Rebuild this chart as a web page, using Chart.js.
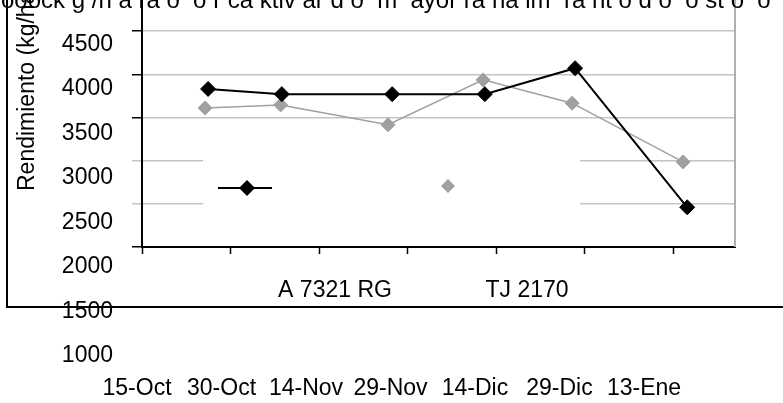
<!DOCTYPE html>
<html>
<head>
<meta charset="utf-8">
<title>Rendimiento</title>
<script src="https://cdn.jsdelivr.net/npm/chart.js@4"></script>
<style>
  html, body { margin: 0; padding: 0; background: #fff; }
  canvas { display: block; }
</style>
</head>
<body>
<canvas id="rendChart" width="783" height="403"></canvas>
<script>
// sowing date as days after 15-Oct
const daysA7321 = [11.2, 23.7, 42.4, 58.1, 73.4, 92.4];
const yieldA7321 = [3830, 3770, 3770, 3770, 4070, 2460];
const daysTJ2170 = [10.7, 23.5, 41.7, 57.8, 72.9, 91.7];
const yieldTJ2170 = [3610, 3645, 3415, 3935, 3665, 2985];
const seriesNames = ['A 7321 RG', 'TJ 2170'];

const dateTicks = [0, 15, 30, 45, 60, 75, 90];
const dateLabels = ['15-Oct', '30-Oct', '14-Nov', '29-Nov', '14-Dic', '29-Dic', '13-Ene'];
const gridValues = [2000, 2500, 3000, 3500, 4000, 4500];
const yLabels = [4500, 4000, 3500, 3000, 2500, 2000, 1500, 1000];
const yTitle = 'Rendimiento (kg/ha)';
const topCaption = 'ooock g /n a ra o  o r ca ktiv ar d o  m  ayor ra na im  ra nt o d o  o st o  o';

const FONT = '"Liberation Sans", Arial, sans-serif';
Chart.defaults.font.family = FONT;
Chart.defaults.font.size = 23;
Chart.defaults.color = '#000';

function toPoints(xs, ys) {
  return xs.map((x, i) => ({ x: x, y: ys[i] }));
}

// fixed axis sizes, no extra room for overhanging labels
function fixSize(w, h) {
  return (axis) => {
    if (w !== null) axis.width = w;
    if (h !== null) axis.height = h;
    axis.paddingTop = 0;
    axis.paddingBottom = 0;
    axis.paddingLeft = 0;
    axis.paddingRight = 0;
  };
}

function diamond(ctx, x, y, r, color) {
  ctx.beginPath();
  ctx.moveTo(x, y - r);
  ctx.lineTo(x + r, y);
  ctx.lineTo(x, y + r);
  ctx.lineTo(x - r, y);
  ctx.closePath();
  ctx.fillStyle = color;
  ctx.fill();
}

// the legend sits in a white box inside the plot, its texts fell below the axis
const legendBox = {
  id: 'legendBox',
  beforeDatasetsDraw(chart) {
    const ctx = chart.ctx;
    ctx.save();
    ctx.fillStyle = '#fff';
    ctx.fillRect(203, 138, 377, 95);
    ctx.restore();
  },
  afterDatasetsDraw(chart) {
    const ctx = chart.ctx;
    const ds = chart.data.datasets;
    ctx.save();
    ctx.strokeStyle = ds[0].borderColor;
    ctx.lineWidth = 2;
    ctx.beginPath();
    ctx.moveTo(218, 188);
    ctx.lineTo(272, 188);
    ctx.stroke();
    diamond(ctx, 247, 188, 8, ds[0].backgroundColor);
    diamond(ctx, 448, 186, 7, ds[1].backgroundColor);
    ctx.fillStyle = '#000';
    ctx.font = '23px ' + FONT;
    ctx.textAlign = 'center';
    ctx.textBaseline = 'middle';
    ctx.fillText(ds[0].label, 335, 291);
    ctx.fillText(ds[1].label, 527, 291);
    ctx.restore();
  }
};

const decorations = {
  id: 'decorations',
  afterDraw(chart) {
    const ctx = chart.ctx;
    const area = chart.chartArea;
    ctx.save();
    // right edge of plot
    ctx.strokeStyle = '#b0b0b0';
    ctx.lineWidth = 2;
    ctx.beginPath();
    ctx.moveTo(area.right, 0);
    ctx.lineTo(area.right, area.bottom);
    ctx.stroke();
    // outer frame
    ctx.strokeStyle = '#000';
    ctx.lineWidth = 2;
    ctx.beginPath();
    ctx.moveTo(7, 0);
    ctx.lineTo(7, 307);
    ctx.lineTo(783, 307);
    ctx.stroke();
    // cut caption at the top
    ctx.fillStyle = '#000';
    ctx.font = '24px ' + FONT;
    ctx.textAlign = 'left';
    ctx.textBaseline = 'alphabetic';
    ctx.fillText(topCaption, 1, 8);
    // y title
    ctx.translate(34, 191);
    ctx.rotate(-Math.PI / 2);
    ctx.font = '23px ' + FONT;
    ctx.fillText(yTitle, 0, 0);
    ctx.restore();
  }
};

const ctx = document.getElementById('rendChart').getContext('2d');
new Chart(ctx, {
  type: 'line',
  data: {
    datasets: [{
      label: seriesNames[0],
      data: toPoints(daysA7321, yieldA7321),
      borderColor: '#000',
      backgroundColor: '#000',
      borderWidth: 2,
      pointStyle: 'rectRot',
      pointRadius: 7.5,
      pointBorderWidth: 1,
      tension: 0
    }, {
      label: seriesNames[1],
      data: toPoints(daysTJ2170, yieldTJ2170),
      borderColor: '#a0a0a0',
      backgroundColor: '#a0a0a0',
      borderWidth: 1.5,
      pointStyle: 'rectRot',
      pointRadius: 7,
      pointBorderWidth: 1,
      tension: 0
    }]
  },
  options: {
    responsive: false,
    animation: false,
    devicePixelRatio: 1,
    layout: { autoPadding: false, padding: { left: 0, right: 48, top: 0, bottom: 0 } },
    plugins: {
      legend: { display: false },
      tooltip: { enabled: false }
    },
    scales: {
      x: {
        type: 'linear',
        position: 'bottom',
        weight: 0,
        min: 0,
        max: 100.5,
        afterBuildTicks: (axis) => { axis.ticks = dateTicks.map(v => ({ value: v })); },
        ticks: { display: false },
        grid: { drawOnChartArea: false, drawTicks: true, tickLength: 7, tickColor: '#000', tickWidth: 1.5 },
        border: { color: '#000', width: 2 },
        afterFit: fixSize(null, 120)
      },
      xLab: {
        type: 'linear',
        position: 'bottom',
        weight: 1,
        min: 0.059,
        max: 7.077,
        afterBuildTicks: (axis) => { axis.ticks = dateLabels.map((l, i) => ({ value: i })); },
        ticks: {
          autoSkip: false,
          maxRotation: 0,
          padding: 8,
          callback: (v) => dateLabels[v]
        },
        grid: { display: false, drawTicks: false },
        border: { display: false },
        afterFit: fixSize(null, 36)
      },
      y: {
        type: 'linear',
        position: 'left',
        weight: 0,
        min: 2000,
        max: 4860,
        afterBuildTicks: (axis) => { axis.ticks = gridValues.map(v => ({ value: v })); },
        ticks: { display: false },
        grid: {
          color: '#c4c4c4',
          lineWidth: 1.5,
          tickLength: 10,
          tickColor: (c) => (c.tick && (c.tick.value === 3000 || c.tick.value === 2500)) ? '#c4c4c4' : '#000'
        },
        border: { color: '#000', width: 2 },
        afterFit: fixSize(10, null)
      },
      yLab: {
        type: 'linear',
        position: 'left',
        weight: 1,
        min: 2225,
        max: 5000,
        afterBuildTicks: (axis) => { axis.ticks = yLabels.map(v => ({ value: v })); },
        ticks: {
          autoSkip: false,
          padding: 19,
          callback: (v) => String(v)
        },
        grid: { display: false, drawTicks: false },
        border: { display: false },
        afterFit: fixSize(132, null)
      }
    }
  },
  plugins: [legendBox, decorations]
});
</script>
</body>
</html>
